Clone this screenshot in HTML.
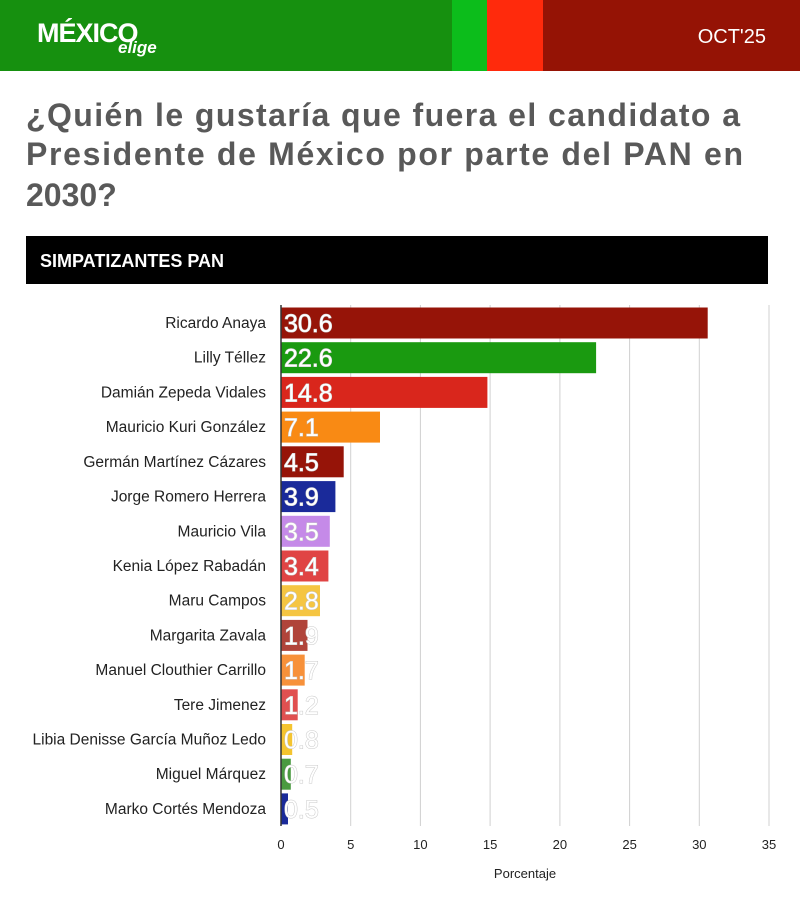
<!DOCTYPE html>
<html><head><meta charset="utf-8"><style>
html,body{margin:0;padding:0;background:#fff}
svg{display:block}
.l{font-family:'Liberation Sans',sans-serif;font-size:15.5px;fill:#222;text-anchor:end}
.v{font-family:'Liberation Sans',sans-serif;font-size:25px;fill:#fff;stroke:#c8c8c8;stroke-width:1px;paint-order:stroke}
</style></head><body>
<svg width="800" height="911" xmlns="http://www.w3.org/2000/svg" font-family="'Liberation Sans', sans-serif">
<rect x="0" y="0" width="452" height="71" fill="#16900f"/>
<rect x="452" y="0" width="35" height="71" fill="#0cbd1b"/>
<rect x="487" y="0" width="56" height="71" fill="#ff2a0c"/>
<rect x="543" y="0" width="257" height="71" fill="#951305"/>
<text x="37" y="42" font-size="27" font-weight="bold" fill="#fff" letter-spacing="-1">MÉXICO</text>
<text x="118" y="53" font-size="17" font-weight="bold" font-style="italic" fill="#fff">elige</text>
<text x="766" y="43" font-size="20" fill="#fff" text-anchor="end">OCT'25</text>
<g font-size="32" font-weight="bold" fill="#595959">
<text x="26" y="126" textLength="714" lengthAdjust="spacing">¿Quién le gustaría que fuera el candidato a</text>
<text x="26" y="165" textLength="717" lengthAdjust="spacing">Presidente de México por parte del PAN en</text>
<text x="26" y="206">2030?</text>
</g>
<rect x="26" y="236" width="742" height="48" fill="#000"/>
<text x="40" y="267" font-size="18" font-weight="bold" fill="#fff">SIMPATIZANTES PAN</text>
<g stroke="#d0d0d0" stroke-width="1">
<line x1="350.7" y1="305" x2="350.7" y2="826"/><line x1="420.4" y1="305" x2="420.4" y2="826"/>
<line x1="490.1" y1="305" x2="490.1" y2="826"/><line x1="559.9" y1="305" x2="559.9" y2="826"/>
<line x1="629.6" y1="305" x2="629.6" y2="826"/><line x1="699.3" y1="305" x2="699.3" y2="826"/>
<line x1="769" y1="305" x2="769" y2="826"/>
</g>
<g font-size="13" fill="#222" text-anchor="middle">
<text x="281" y="849">0</text><text x="350.7" y="849">5</text><text x="420.4" y="849">10</text><text x="490.1" y="849">15</text><text x="559.9" y="849">20</text><text x="629.6" y="849">25</text><text x="699.3" y="849">30</text><text x="769" y="849">35</text>
<text x="525" y="878">Porcentaje</text>
</g>
<rect x="281" y="307.5" width="426.7" height="31" fill="#961408"/>
<rect x="281" y="342.2" width="315.1" height="31" fill="#1a9a10"/>
<rect x="281" y="376.9" width="206.4" height="31" fill="#d9261c"/>
<rect x="281" y="411.6" width="99.0" height="31" fill="#f98a14"/>
<rect x="281" y="446.3" width="62.7" height="31" fill="#961408"/>
<rect x="281" y="481.1" width="54.4" height="31" fill="#1a2a9a"/>
<rect x="281" y="515.8" width="48.8" height="31" fill="#c58ae8"/>
<rect x="281" y="550.5" width="47.4" height="31" fill="#e04444"/>
<rect x="281" y="585.2" width="39.0" height="31" fill="#f5c542"/>
<rect x="281" y="619.9" width="26.5" height="31" fill="#b0443a"/>
<rect x="281" y="654.6" width="23.7" height="31" fill="#f7913a"/>
<rect x="281" y="689.3" width="16.7" height="31" fill="#e05050"/>
<rect x="281" y="724.0" width="11.2" height="31" fill="#f4c430"/>
<rect x="281" y="758.7" width="9.8" height="31" fill="#4a9a40"/>
<rect x="281" y="793.4" width="7.0" height="31" fill="#1a2a9a"/>
<text class="l" x="266" y="328">Ricardo Anaya</text>
<text class="l" x="266" y="362.7">Lilly Téllez</text>
<text class="l" x="266" y="397.4">Damián Zepeda Vidales</text>
<text class="l" x="266" y="432.1">Mauricio Kuri González</text>
<text class="l" x="266" y="466.8">Germán Martínez Cázares</text>
<text class="l" x="266" y="501.6">Jorge Romero Herrera</text>
<text class="l" x="266" y="536.3">Mauricio Vila</text>
<text class="l" x="266" y="571.0">Kenia López Rabadán</text>
<text class="l" x="266" y="605.7">Maru Campos</text>
<text class="l" x="266" y="640.4">Margarita Zavala</text>
<text class="l" x="266" y="675.1">Manuel Clouthier Carrillo</text>
<text class="l" x="266" y="709.8">Tere Jimenez</text>
<text class="l" x="266" y="744.5">Libia Denisse García Muñoz Ledo</text>
<text class="l" x="266" y="779.2">Miguel Márquez</text>
<text class="l" x="266" y="813.9">Marko Cortés Mendoza</text>
<text class="v" x="284" y="332">30.6</text>
<text class="v" x="284" y="366.7">22.6</text>
<text class="v" x="284" y="401.4">14.8</text>
<text class="v" x="284" y="436.1">7.1</text>
<text class="v" x="284" y="470.8">4.5</text>
<text class="v" x="284" y="505.6">3.9</text>
<text class="v" x="284" y="540.3">3.5</text>
<text class="v" x="284" y="575.0">3.4</text>
<text class="v" x="284" y="609.7">2.8</text>
<text class="v" x="284" y="644.4">1.9</text>
<text class="v" x="284" y="679.1">1.7</text>
<text class="v" x="284" y="713.8">1.2</text>
<text class="v" x="284" y="748.5">0.8</text>
<text class="v" x="284" y="783.2">0.7</text>
<text class="v" x="284" y="817.9">0.5</text>
<line x1="281" y1="305" x2="281" y2="826" stroke="#333" stroke-width="1.5"/>
</svg>
</body></html>
